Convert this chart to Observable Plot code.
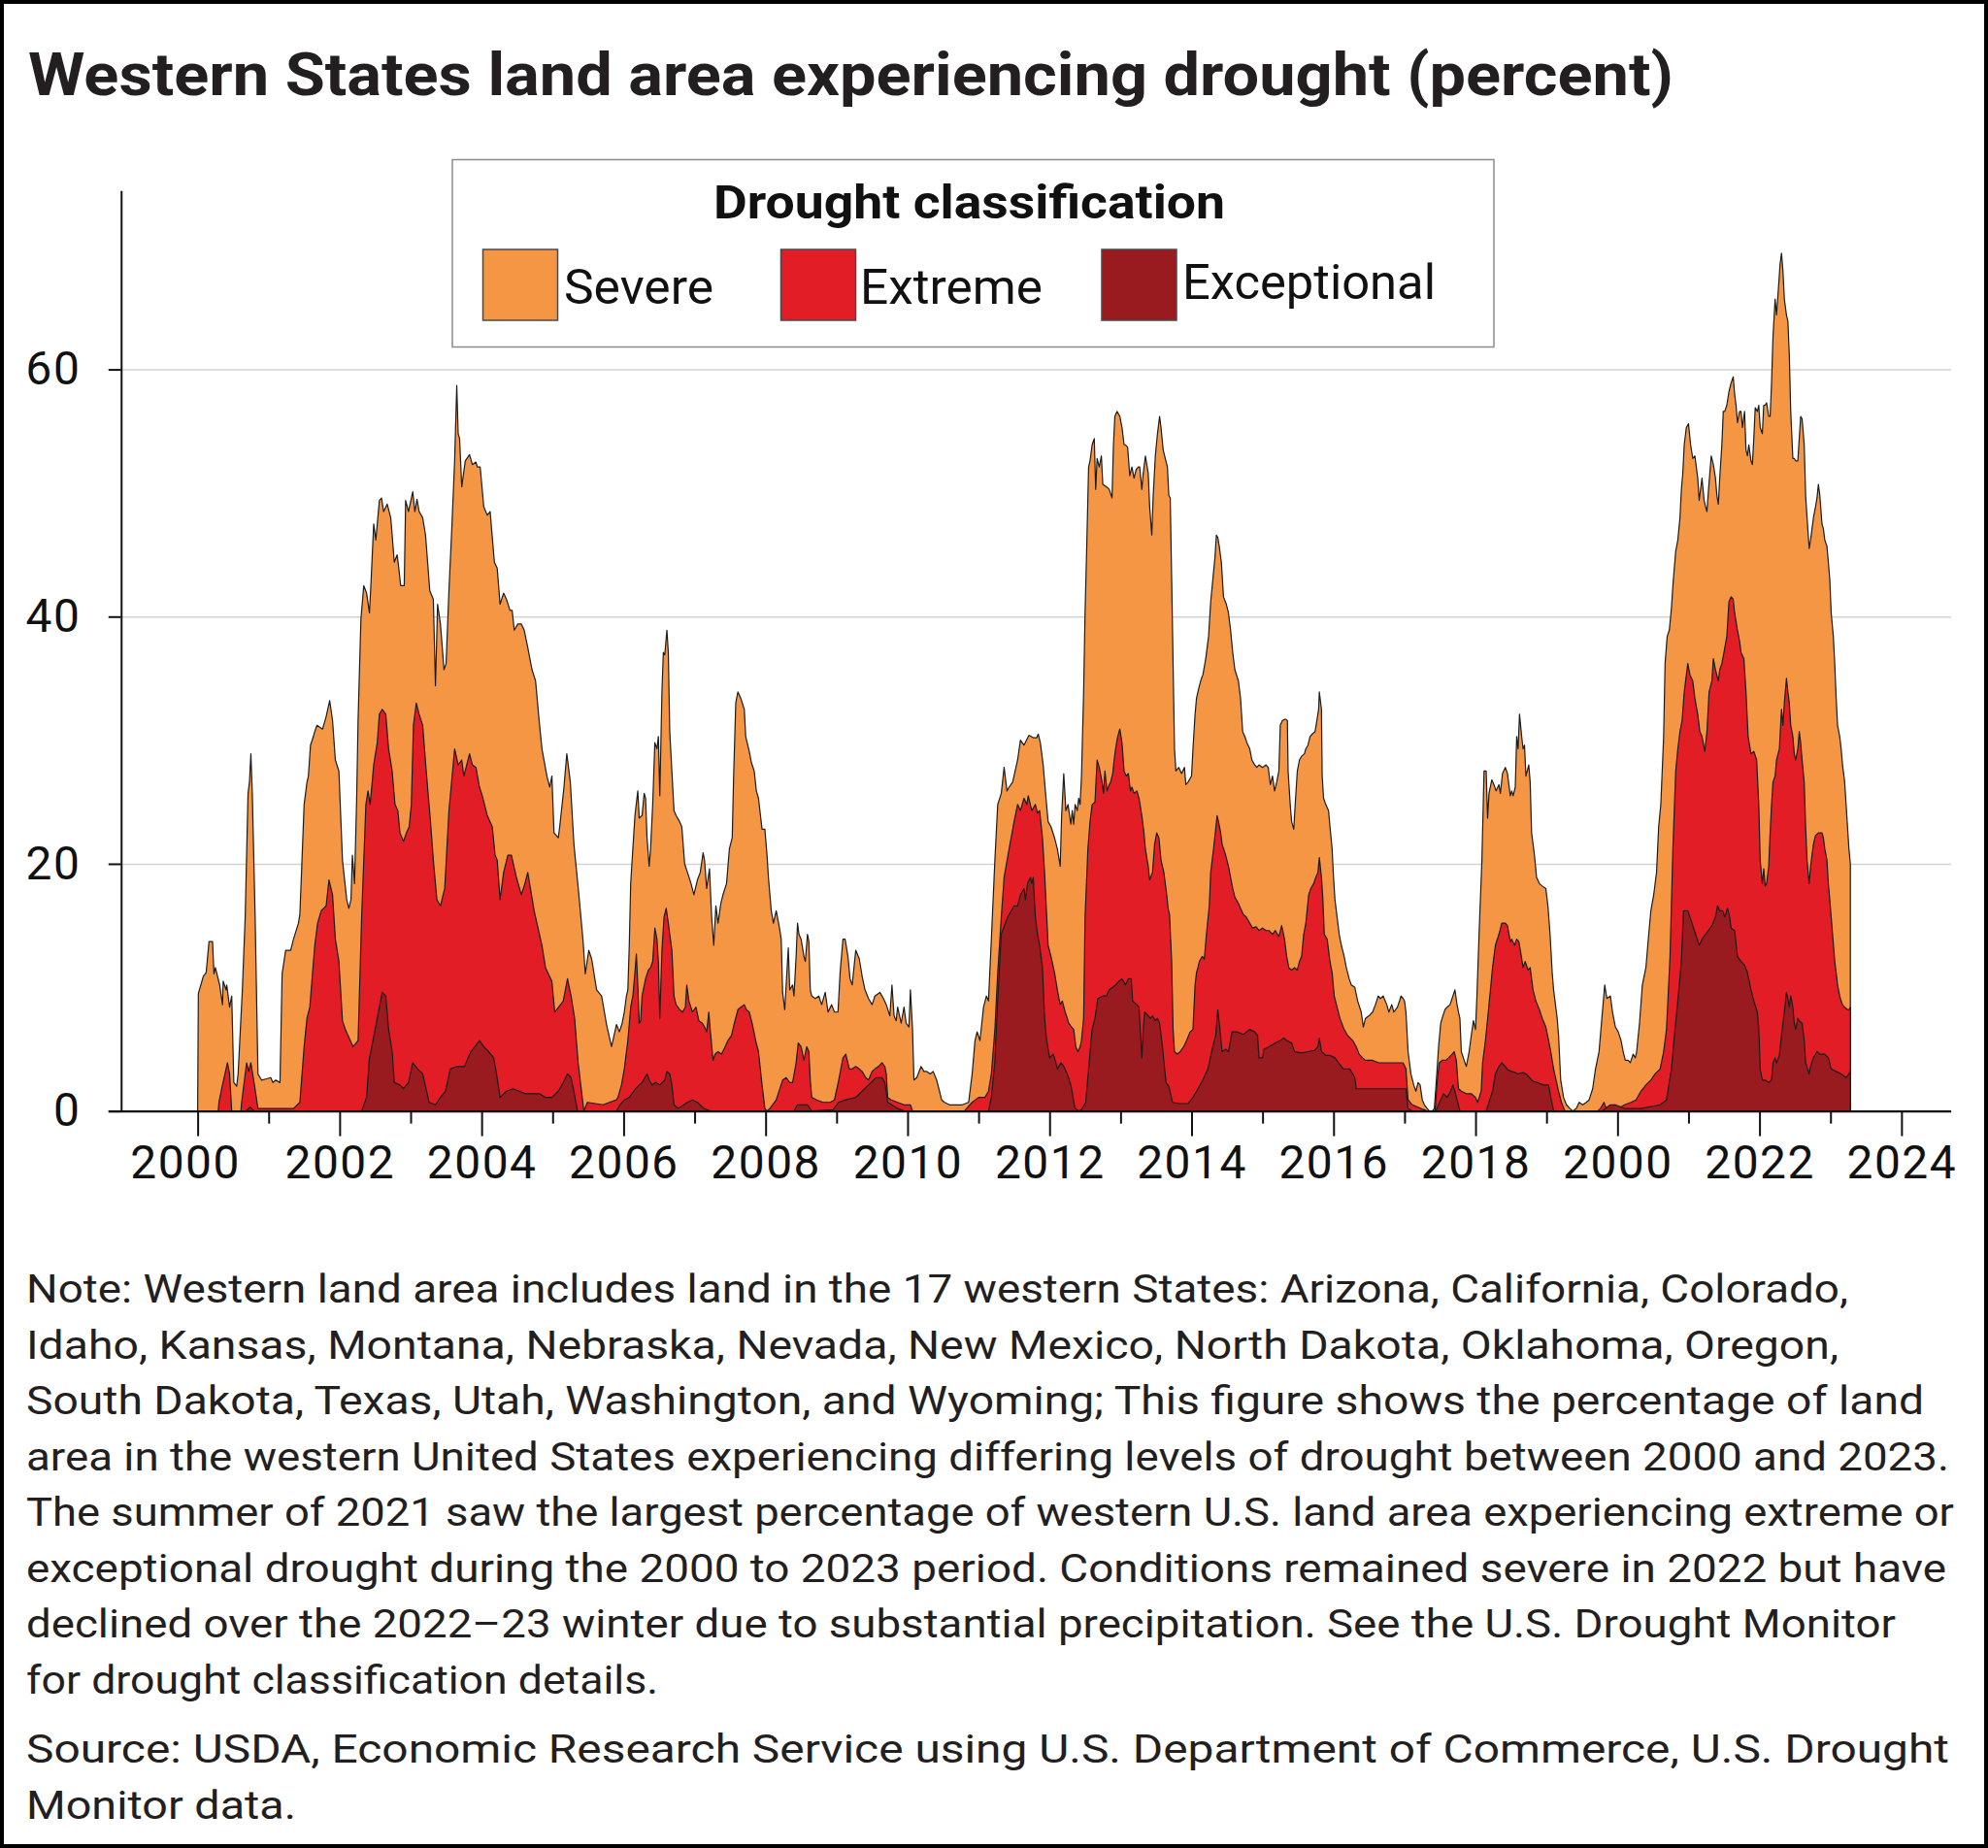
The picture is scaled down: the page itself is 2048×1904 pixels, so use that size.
<!DOCTYPE html>
<html>
<head>
<meta charset="utf-8">
<script src="https://cdn.jsdelivr.net/npm/d3@7"></script>
<script src="https://cdn.jsdelivr.net/npm/@observablehq/plot@0.6"></script>
<style>
html, body { margin: 0; padding: 0; background: #fff; }
#page { position: relative; width: 2048px; height: 1904px; box-sizing: border-box; border: 4px solid #000; overflow: hidden; background: #fff; font-family: Roboto, sans-serif; }
#chart { position: absolute; left: -4px; top: 146px; }
#overlay { position: absolute; left: -4px; top: -4px; pointer-events: none; }
</style>
</head>
<body>
<div id="page">
  <div id="chart"></div>
  <svg id="overlay" width="2048" height="1904"></svg>
</div>
<script>
// ---------------- DATA ----------------
const titleText = "Western States land area experiencing drought (percent)";
const legendTitle = "Drought classification";
const categories = ["Severe", "Extreme", "Exceptional"];
const colors = ["#F59645", "#E31D25", "#9A1B1F"];

// Share of western land area in each class or worse, [year, percent]
const severeOrWorse = [
[2000.00,0],[2000.01,9.5],[2000.08,10.9],[2000.12,11.2],[2000.16,13.7],[2000.21,13.7],[2000.23,11.1],[2000.25,11.6],[2000.31,10.2],[2000.35,8.6],[2000.36,10.5],[2000.40,9.8],[2000.41,10.2],[2000.45,8.4],[2000.48,9.3],[2000.51,2.3],[2000.55,2.0],[2000.57,3.0],[2000.63,9.8],[2000.67,15.7],[2000.71,25.7],[2000.73,26.6],[2000.75,28.9],[2000.77,25.7],[2000.81,15.7],[2000.85,3.0],[2000.90,2.5],[2000.97,2.6],[2001.03,2.7],[2001.06,2.3],[2001.10,2.5],[2001.16,2.3],[2001.19,11.1],[2001.24,13.0],[2001.31,13.0],[2001.35,13.9],[2001.42,15.2],[2001.44,15.9],[2001.47,20.3],[2001.50,24.8],[2001.54,26.6],[2001.56,27.1],[2001.59,29.6],[2001.63,30.3],[2001.65,30.7],[2001.68,31.2],[2001.76,30.9],[2001.81,31.9],[2001.86,33.2],[2001.90,31.6],[2001.94,28.4],[2001.99,27.5],[2002.04,20.3],[2002.10,17.1],[2002.13,16.4],[2002.16,17.1],[2002.18,20.7],[2002.21,18.4],[2002.24,25.3],[2002.26,31.6],[2002.30,39.8],[2002.34,42.5],[2002.38,41.9],[2002.42,40.3],[2002.44,42.5],[2002.48,47.5],[2002.51,46.2],[2002.56,49.4],[2002.59,49.6],[2002.62,48.5],[2002.67,49.1],[2002.72,48.0],[2002.74,46.6],[2002.77,44.4],[2002.81,45.0],[2002.83,44.1],[2002.86,42.5],[2002.91,42.5],[2002.93,49.4],[2002.97,48.5],[2003.03,50.1],[2003.06,48.5],[2003.09,49.5],[2003.12,48.5],[2003.17,48.0],[2003.21,46.6],[2003.27,42.1],[2003.32,41.4],[2003.35,34.4],[2003.38,41.0],[2003.42,39.4],[2003.47,35.7],[2003.50,36.2],[2003.54,42.1],[2003.58,47.1],[2003.62,52.6],[2003.65,58.7],[2003.67,54.8],[2003.69,54.4],[2003.72,50.5],[2003.77,52.6],[2003.83,53.1],[2003.87,52.3],[2003.92,52.5],[2003.94,52.1],[2003.98,52.1],[2004.03,48.9],[2004.08,48.2],[2004.12,48.5],[2004.18,44.4],[2004.22,43.9],[2004.26,41.0],[2004.31,41.9],[2004.35,41.4],[2004.40,40.5],[2004.43,40.5],[2004.46,38.9],[2004.51,39.4],[2004.56,39.4],[2004.60,38.9],[2004.65,37.5],[2004.71,35.7],[2004.76,34.8],[2004.81,31.6],[2004.85,29.3],[2004.92,27.1],[2004.96,26.2],[2004.99,27.1],[2005.02,22.5],[2005.08,22.1],[2005.10,23.0],[2005.16,26.2],[2005.20,28.9],[2005.25,26.6],[2005.30,21.6],[2005.37,17.5],[2005.43,13.7],[2005.46,11.1],[2005.51,13.0],[2005.55,12.3],[2005.62,9.8],[2005.69,9.3],[2005.76,7.0],[2005.83,5.2],[2005.90,7.0],[2005.94,6.4],
[2005.98,7.1],[2006.01,8.0],[2006.04,9.3],[2006.06,9.8],[2006.08,13.4],[2006.10,18.4],[2006.13,21.2],[2006.16,23.9],[2006.20,25.9],[2006.22,23.7],[2006.26,23.9],[2006.29,25.7],[2006.31,25.3],[2006.33,22.1],[2006.36,19.8],[2006.38,21.2],[2006.41,24.8],[2006.44,29.8],[2006.47,29.3],[2006.49,30.3],[2006.51,25.5],[2006.54,33.9],[2006.56,37.1],[2006.58,36.9],[2006.61,38.9],[2006.63,37.1],[2006.65,30.7],[2006.68,27.5],[2006.71,24.3],[2006.74,23.9],[2006.79,23.4],[2006.82,23.0],[2006.86,20.0],[2006.90,19.3],[2006.95,18.4],[2006.99,17.5],[2007.04,18.7],[2007.08,19.3],[2007.12,20.9],[2007.14,20.3],[2007.17,18.0],[2007.21,19.6],[2007.24,15.7],[2007.27,13.4],[2007.30,16.6],[2007.33,15.2],[2007.37,16.8],[2007.40,17.5],[2007.45,18.4],[2007.49,21.2],[2007.53,22.1],[2007.55,27.1],[2007.58,33.0],[2007.61,33.9],[2007.65,33.4],[2007.70,32.5],[2007.72,30.3],[2007.77,29.1],[2007.80,28.2],[2007.84,27.5],[2007.87,25.9],[2007.90,25.3],[2007.95,22.8],[2007.99,22.8],[2008.02,20.7],[2008.04,18.9],[2008.08,16.2],[2008.11,15.2],[2008.15,16.2],[2008.19,15.0],[2008.22,13.9],[2008.24,9.6],[2008.27,8.2],[2008.29,10.2],[2008.32,13.2],[2008.34,9.8],[2008.38,10.2],[2008.40,9.3],[2008.43,12.5],[2008.45,15.2],[2008.47,14.3],[2008.50,13.9],[2008.54,12.5],[2008.56,12.1],[2008.59,14.3],[2008.61,13.7],[2008.63,9.8],[2008.65,9.3],[2008.70,9.1],[2008.75,9.3],[2008.79,8.6],[2008.84,9.6],[2008.88,8.0],[2008.93,8.6],[2008.97,8.0],[2009.02,8.0],[2009.05,11.2],[2009.09,13.9],[2009.12,13.9],[2009.16,12.5],[2009.19,10.7],[2009.22,10.2],[2009.27,13.0],[2009.32,12.3],[2009.36,10.9],[2009.40,9.8],[2009.45,9.1],[2009.50,8.6],[2009.54,9.3],[2009.61,9.6],[2009.66,9.1],[2009.70,8.6],[2009.75,7.7],[2009.78,10.2],[2009.81,7.7],[2009.84,7.3],[2009.86,8.4],[2009.91,7.1],[2009.95,8.4],[2009.98,7.1],[2010.02,6.8],[2010.04,9.8],[2010.07,6.6],[2010.09,2.5],[2010.13,2.7],[2010.19,3.6],[2010.23,3.2],[2010.27,3.2],[2010.32,3.0],[2010.36,3.2],[2010.41,2.5],[2010.45,1.6],[2010.48,0.9],[2010.52,0.7],[2010.59,0.5],[2010.68,0.5],[2010.77,0.5],[2010.86,0.7],[2010.91,3.0],[2010.95,5.7],[2010.98,6.4],[2011.02,5.7],[2011.07,8.4],[2011.11,9.3],[2011.14,8.9],[2011.18,13.9],[2011.23,20.3],[2011.27,24.8],[2011.32,25.7],[2011.36,27.8],[2011.40,25.9],[2011.43,26.2],[2011.48,26.6],[2011.55,28.4],[2011.59,30.0],[2011.64,29.6],[2011.71,30.4],[2011.77,30.2],[2011.82,30.2],
[2011.84,30.5],[2011.87,29.8],[2011.91,28.0],[2011.95,25.3],[2011.98,23.4],[2012.02,23.0],[2012.07,22.1],[2012.11,21.2],[2012.15,19.8],[2012.17,23.9],[2012.20,27.3],[2012.23,24.3],[2012.26,24.8],[2012.30,23.2],[2012.32,24.3],[2012.34,23.2],[2012.36,24.8],[2012.39,24.3],[2012.41,25.3],[2012.43,24.8],[2012.45,27.1],[2012.48,33.9],[2012.50,40.3],[2012.52,44.8],[2012.55,52.1],[2012.57,52.6],[2012.60,53.9],[2012.63,54.4],[2012.65,50.3],[2012.67,52.8],[2012.70,52.1],[2012.73,53.0],[2012.75,50.7],[2012.80,50.5],[2012.84,50.3],[2012.88,49.6],[2012.90,53.9],[2012.92,56.2],[2012.95,56.6],[2012.99,56.2],[2013.02,55.3],[2013.05,53.9],[2013.07,53.9],[2013.10,53.7],[2013.13,51.4],[2013.16,52.1],[2013.19,51.2],[2013.22,51.9],[2013.25,52.1],[2013.27,52.1],[2013.30,50.3],[2013.32,51.6],[2013.35,53.0],[2013.39,51.6],[2013.41,48.9],[2013.44,46.6],[2013.46,49.8],[2013.49,53.0],[2013.52,54.8],[2013.55,56.2],[2013.57,55.3],[2013.60,53.5],[2013.63,52.8],[2013.66,52.1],[2013.68,49.8],[2013.70,49.6],[2013.72,43.0],[2013.74,36.2],[2013.76,29.3],[2013.78,27.5],[2013.82,27.8],[2013.86,27.3],[2013.90,27.8],[2013.92,26.4],[2013.95,26.6],[2014.00,27.1],[2014.02,29.3],[2014.05,32.1],[2014.07,33.4],[2014.09,33.9],[2014.11,34.4],[2014.14,35.0],[2014.16,35.3],[2014.20,36.6],[2014.24,38.4],[2014.27,41.2],[2014.30,43.0],[2014.33,44.8],[2014.35,46.6],[2014.37,46.4],[2014.39,45.7],[2014.42,44.4],[2014.45,41.6],[2014.49,41.0],[2014.52,40.3],[2014.55,38.9],[2014.58,37.1],[2014.61,35.7],[2014.66,34.8],[2014.69,33.4],[2014.72,30.7],[2014.75,30.3],[2014.78,29.8],[2014.82,29.3],[2014.85,28.4],[2014.89,28.0],[2014.92,27.8],[2014.95,28.0],[2015.00,27.8],[2015.05,28.0],[2015.08,27.8],[2015.11,26.4],[2015.14,27.1],[2015.17,25.9],[2015.20,26.6],[2015.23,27.5],[2015.25,31.2],[2015.28,31.6],[2015.32,31.7],[2015.35,31.6],[2015.36,27.5],[2015.39,24.8],[2015.41,23.4],[2015.44,22.8],[2015.46,24.8],[2015.49,27.5],[2015.52,28.4],[2015.55,28.7],[2015.59,28.9],[2015.61,29.3],[2015.64,29.6],[2015.67,30.3],[2015.70,30.5],[2015.74,30.7],[2015.76,31.4],[2015.79,32.5],[2015.80,33.9],[2015.83,32.5],[2015.84,27.1],[2015.86,25.3],[2015.89,24.8],[2015.93,24.3],[2015.95,23.0],[2015.98,21.2],[2016.00,18.9],[2016.02,17.1],[2016.05,15.7],[2016.08,14.3],[2016.11,13.4],[2016.15,12.5],[2016.18,11.6],[2016.22,10.7],[2016.25,10.2],[2016.30,10.0],[2016.34,8.9],[2016.39,8.0],[2016.42,6.8],[2016.45,7.5],[2016.50,7.7],[2016.55,8.0],[2016.59,8.6],[2016.63,9.3],[2016.66,9.1],[2016.70,9.3],[2016.75,8.6],[2016.78,8.0],[2016.82,8.6],[2016.85,8.0],[2016.90,8.4],[2016.93,8.9],[2016.95,9.3],[2016.98,9.1],[2017.00,8.9],[2017.02,8.0],[2017.05,4.8],[2017.09,3.0],[2017.13,2.1],[2017.16,1.6],[2017.19,2.3],[2017.22,2.1],[2017.25,0.9],[2017.28,0.5],[2017.32,0.2],[2017.35,0],[2017.39,0],[2017.42,0.2],[2017.45,2.6],[2017.48,5.2],[2017.51,7.1],[2017.54,7.7],[2017.57,8.2],[2017.60,8.4],[2017.64,8.6],[2017.67,9.1],
[2017.71,9.8],[2017.74,8.6],[2017.76,8.0],[2017.78,7.5],[2017.80,4.8],[2017.84,4.1],[2017.87,3.6],[2017.91,4.8],[2017.94,6.1],[2017.97,7.3],[2018.00,6.6],[2018.02,9.3],[2018.05,14.3],[2018.09,20.3],[2018.12,27.5],[2018.15,27.5],[2018.17,23.7],[2018.19,25.7],[2018.23,26.8],[2018.26,26.4],[2018.29,25.9],[2018.33,26.4],[2018.35,25.7],[2018.38,27.3],[2018.42,27.8],[2018.45,27.3],[2018.49,25.5],[2018.51,25.9],[2018.53,25.5],[2018.56,26.2],[2018.58,30.3],[2018.60,29.3],[2018.62,32.1],[2018.65,30.3],[2018.67,29.3],[2018.69,29.6],[2018.71,27.1],[2018.75,28.0],[2018.77,26.6],[2018.79,22.5],[2018.83,20.7],[2018.86,18.9],[2018.90,18.4],[2018.94,18.2],[2018.99,18.0],[2019.02,16.6],[2019.05,14.3],[2019.08,11.2],[2019.10,9.8],[2019.12,8.9],[2019.15,7.5],[2019.17,6.1],[2019.20,2.5],[2019.24,1.1],[2019.28,0.5],[2019.33,0.2],[2019.37,0],[2019.42,0.2],[2019.46,0.7],[2019.51,0.5],[2019.56,0.7],[2019.60,0.9],[2019.65,1.8],[2019.69,3.4],[2019.74,4.8],[2019.78,7.5],[2019.82,10.2],[2019.85,9.1],[2019.90,9.3],[2019.93,8.0],[2019.97,6.8],[2020.01,6.4],[2020.05,5.7],[2020.08,4.8],[2020.11,4.1],[2020.15,4.1],[2020.18,3.9],[2020.22,4.6],[2020.25,4.3],[2020.27,4.8],[2020.31,7.1],[2020.35,10.2],[2020.40,11.6],[2020.44,14.3],[2020.47,16.2],[2020.51,17.5],[2020.55,19.3],[2020.58,23.0],[2020.61,24.8],[2020.65,30.3],[2020.67,36.2],[2020.70,38.4],[2020.73,38.9],[2020.76,40.7],[2020.78,42.5],[2020.82,45.3],[2020.85,46.2],[2020.88,48.0],[2020.90,50.3],[2020.92,51.6],[2020.94,53.9],[2020.97,55.3],[2021.00,55.6],[2021.03,53.9],[2021.06,52.8],[2021.09,53.0],[2021.13,51.2],[2021.15,49.4],[2021.17,50.3],[2021.19,51.2],[2021.22,49.4],[2021.24,48.9],[2021.26,48.5],[2021.28,50.1],[2021.32,53.0],[2021.35,52.3],[2021.38,51.2],[2021.40,49.8],[2021.42,49.1],[2021.44,51.2],[2021.47,53.9],[2021.49,56.6],[2021.51,56.6],[2021.54,57.1],[2021.57,58.2],[2021.60,58.9],[2021.63,59.4],[2021.65,58.0],[2021.67,57.1],[2021.69,55.7],[2021.72,56.6],[2021.74,56.6],[2021.76,55.3],[2021.79,56.6],[2021.81,53.5],[2021.83,53.0],[2021.85,53.9],[2021.88,52.6],[2021.90,52.3],[2021.92,54.4],[2021.94,56.9],[2021.97,56.6],[2021.99,57.1],[2022.01,55.3],[2022.04,54.8],[2022.06,57.1],[2022.08,57.1],[2022.10,57.3],[2022.13,56.2],[2022.15,56.2],[2022.17,58.9],[2022.19,62.6],[2022.22,65.7],[2022.24,64.4],[2022.26,66.0],[2022.29,68.5],[2022.31,69.4],[2022.33,68.0],[2022.35,65.7],[2022.38,64.4],[2022.40,63.9],[2022.42,61.2],[2022.44,56.6],[2022.47,52.8],[2022.49,52.8],[2022.51,52.6],[2022.54,52.6],[2022.56,54.4],[2022.58,56.2],[2022.60,56.0],[2022.63,53.9],[2022.65,49.8],[2022.67,48.0],[2022.70,45.5],[2022.72,46.2],[2022.74,47.1],[2022.76,48.0],[2022.79,48.9],[2022.81,49.6],[2022.83,50.7],[2022.85,49.8],[2022.88,47.5],[2022.90,47.1],[2022.92,46.2],[2022.95,45.7],[2022.97,44.4],[2022.99,43.0],[2023.01,40.3],[2023.04,38.4],[2023.06,36.2],[2023.08,33.4],[2023.10,31.2],[2023.13,30.3],[2023.15,29.3],[2023.17,28.0],[2023.20,26.6],[2023.22,24.8],[2023.24,23.0],[2023.26,21.2],[2023.28,20.0]
];

const extremeOrWorse = [
[2000.29,0],[2000.30,0.7],[2000.35,2.1],[2000.42,3.9],[2000.45,3.0],[2000.48,0],[2000.61,0],[2000.62,0.7],[2000.69,3.9],[2000.72,3.2],[2000.75,3.9],[2000.80,2.1],[2000.85,0.2],[2001.35,0.2],[2001.44,0.7],[2001.50,5.2],[2001.54,7.5],[2001.58,8.4],[2001.65,13.4],[2001.69,15.2],[2001.74,16.2],[2001.81,16.6],[2001.85,18.7],[2001.90,17.5],[2001.94,13.9],[2001.99,12.1],[2002.04,7.3],[2002.08,6.6],[2002.15,5.7],[2002.19,5.2],[2002.26,5.7],[2002.31,15.7],[2002.37,24.8],[2002.40,25.9],[2002.43,24.8],[2002.48,28.0],[2002.53,29.8],[2002.56,32.1],[2002.60,32.5],[2002.65,32.1],[2002.69,29.3],[2002.74,27.5],[2002.78,24.8],[2002.82,24.3],[2002.85,22.5],[2002.90,21.8],[2002.94,22.5],[2002.98,23.0],[2003.01,24.8],[2003.04,31.2],[2003.08,33.0],[2003.12,32.1],[2003.17,31.2],[2003.22,27.5],[2003.28,23.4],[2003.32,20.3],[2003.37,17.1],[2003.42,16.6],[2003.48,18.0],[2003.54,24.3],[2003.62,29.3],[2003.67,28.0],[2003.72,28.4],[2003.75,27.1],[2003.83,28.9],[2003.87,28.0],[2003.92,27.8],[2003.97,26.2],[2004.01,25.5],[2004.08,23.9],[2004.15,23.0],[2004.19,20.7],[2004.22,20.3],[2004.26,17.1],[2004.31,19.3],[2004.37,20.7],[2004.42,20.7],[2004.49,18.9],[2004.56,17.5],[2004.61,18.4],[2004.65,19.3],[2004.74,16.2],[2004.85,13.4],[2004.90,11.6],[2004.99,10.5],[2005.03,8.0],[2005.15,8.9],[2005.21,10.7],[2005.26,9.3],[2005.31,7.5],[2005.36,3.9],[2005.44,0],[2005.49,0.7],[2005.71,0.5],[2005.90,0.9],
[2005.92,1.1],[2005.97,2.1],[2006.01,3.4],[2006.06,5.7],[2006.10,8.4],[2006.13,9.3],[2006.16,11.2],[2006.18,12.7],[2006.20,10.2],[2006.22,7.1],[2006.24,7.3],[2006.26,9.3],[2006.31,10.7],[2006.35,11.4],[2006.38,11.6],[2006.41,12.1],[2006.44,14.8],[2006.47,13.9],[2006.49,12.1],[2006.51,7.5],[2006.54,13.0],[2006.57,15.7],[2006.60,16.4],[2006.63,15.2],[2006.65,14.3],[2006.68,13.0],[2006.71,9.3],[2006.74,8.6],[2006.79,8.2],[2006.83,8.0],[2006.87,8.4],[2006.89,10.2],[2006.92,8.9],[2006.97,8.0],[2007.02,8.4],[2007.06,7.3],[2007.11,7.1],[2007.14,6.8],[2007.17,6.4],[2007.20,8.0],[2007.22,6.6],[2007.26,4.1],[2007.29,4.6],[2007.33,4.8],[2007.38,4.6],[2007.43,5.2],[2007.47,5.7],[2007.52,6.1],[2007.56,7.1],[2007.61,8.2],[2007.65,8.4],[2007.70,8.6],[2007.73,8.2],[2007.77,8.0],[2007.81,7.1],[2007.86,5.7],[2007.90,4.8],[2007.95,2.1],[2007.99,0.2],[2008.02,0],
[2008.06,0.2],[2008.15,0.9],[2008.24,2.5],[2008.29,2.7],[2008.34,2.3],[2008.38,2.3],[2008.43,3.9],[2008.46,5.5],[2008.50,5.2],[2008.54,4.1],[2008.58,5.2],[2008.61,4.8],[2008.63,2.5],[2008.65,1.1],[2008.72,0.9],[2008.81,0.7],[2008.91,0.7],[2008.97,0.9],[2009.03,2.5],[2009.09,4.3],[2009.13,4.6],[2009.18,3.4],[2009.22,3.4],[2009.27,3.6],[2009.32,3.4],[2009.36,3.2],[2009.41,2.7],[2009.45,2.5],[2009.50,3.2],[2009.54,3.4],[2009.59,3.6],[2009.64,3.9],[2009.68,3.6],[2009.70,3.0],[2009.72,1.1],[2009.77,0.9],[2009.86,0.7],[2009.95,0.5],[2010.04,0.5],[2010.07,0],[2010.80,0],
[2010.91,0.7],[2011.00,1.1],[2011.09,1.1],[2011.14,1.6],[2011.18,3.0],[2011.23,6.6],[2011.27,11.2],[2011.32,15.7],[2011.36,18.9],[2011.43,21.2],[2011.50,23.4],
[2011.55,24.8],[2011.59,24.3],[2011.64,25.3],[2011.68,24.8],[2011.70,25.5],[2011.75,24.3],[2011.80,24.8],[2011.83,24.1],[2011.86,24.3],[2011.90,22.1],[2011.93,19.3],[2011.98,13.4],[2012.02,12.5],[2012.07,11.2],[2012.11,9.8],[2012.15,8.6],[2012.18,8.9],[2012.22,8.0],[2012.25,7.5],[2012.27,7.1],[2012.31,6.8],[2012.34,6.6],[2012.37,5.2],[2012.40,4.8],[2012.43,5.2],[2012.45,5.7],[2012.48,7.5],[2012.50,15.7],[2012.54,21.2],[2012.57,23.4],[2012.60,24.8],[2012.64,25.0],[2012.67,28.4],[2012.70,27.8],[2012.74,26.6],[2012.76,25.7],[2012.78,27.5],[2012.81,25.9],[2012.84,26.4],[2012.86,26.6],[2012.89,27.3],[2012.91,28.4],[2012.93,29.3],[2012.96,30.3],[2012.99,30.9],[2013.02,29.8],[2013.05,27.5],[2013.08,27.1],[2013.11,27.3],[2013.14,25.9],[2013.16,26.2],[2013.19,25.7],[2013.23,25.9],[2013.26,25.3],[2013.30,23.9],[2013.33,22.5],[2013.35,21.2],[2013.39,19.8],[2013.41,18.7],[2013.45,19.3],[2013.48,21.6],[2013.51,22.5],[2013.54,22.1],[2013.57,20.3],[2013.61,19.3],[2013.65,17.5],[2013.67,16.4],[2013.69,15.9],[2013.72,12.1],[2013.74,6.6],[2013.76,4.8],[2013.80,4.6],[2013.84,4.8],[2013.89,5.2],[2013.93,5.7],[2013.98,6.4],[2014.02,6.6],[2014.05,10.2],[2014.07,11.2],[2014.09,11.6],[2014.11,12.1],[2014.15,12.5],[2014.18,12.3],[2014.21,14.3],[2014.25,16.6],[2014.27,19.3],[2014.31,21.2],[2014.34,22.8],[2014.36,23.9],[2014.38,23.4],[2014.41,22.5],[2014.43,21.6],[2014.48,20.7],[2014.52,19.8],[2014.55,18.9],[2014.58,18.0],[2014.61,17.3],[2014.66,16.8],[2014.69,16.4],[2014.73,15.9],[2014.77,15.7],[2014.82,15.2],[2014.86,14.8],[2014.91,14.9],[2014.95,14.6],[2015.00,14.8],[2015.05,14.6],[2015.09,14.6],[2015.14,14.3],[2015.18,14.6],[2015.23,14.1],[2015.27,15.0],[2015.31,13.9],[2015.34,12.5],[2015.37,11.6],[2015.41,11.4],[2015.45,11.6],[2015.49,11.4],[2015.52,12.1],[2015.55,12.5],[2015.58,14.3],[2015.61,15.2],[2015.65,17.5],[2015.68,18.0],[2015.72,18.4],[2015.75,18.9],[2015.78,19.3],[2015.80,20.5],[2015.83,18.9],[2015.85,17.1],[2015.87,14.3],[2015.91,13.9],[2015.95,12.1],[2015.98,11.2],[2016.01,9.3],[2016.05,8.4],[2016.09,7.5],[2016.15,6.6],[2016.20,6.1],[2016.27,5.7],[2016.32,5.2],[2016.36,4.6],[2016.41,4.3],[2016.45,4.1],[2016.55,4.1],[2016.64,3.9],[2016.98,3.9],[2017.02,3.4],[2017.05,0.9],[2017.11,0.5],[2017.23,0.2],[2017.32,0],[2017.43,0],[2017.46,2.4],[2017.49,3.9],[2017.53,4.1],[2017.58,4.1],[2017.62,4.3],[2017.67,4.6],
[2017.70,4.8],[2017.73,4.1],[2017.76,1.8],[2017.80,1.6],[2017.87,1.4],[2017.94,1.4],[2018.00,1.1],[2018.03,0.7],[2018.08,1.6],[2018.10,3.9],[2018.14,5.7],[2018.18,8.0],[2018.24,11.6],[2018.28,13.4],[2018.33,14.3],[2018.37,15.2],[2018.42,15.2],[2018.45,15.0],[2018.49,13.7],[2018.51,13.9],[2018.55,13.4],[2018.58,13.9],[2018.61,13.7],[2018.64,12.7],[2018.67,11.6],[2018.70,12.1],[2018.74,11.4],[2018.77,11.6],[2018.81,9.8],[2018.85,8.9],[2018.90,8.2],[2018.94,7.5],[2018.99,6.8],[2019.03,5.7],[2019.06,4.8],[2019.10,3.4],[2019.15,2.1],[2019.17,1.6],[2019.21,0.7],[2019.26,0],[2019.72,0],[2019.76,0.2],[2019.81,0.7],[2019.84,0.2],[2019.90,0.1],[2020.01,0.2],[2020.10,0.5],[2020.19,0.7],[2020.26,0.9],[2020.33,1.6],[2020.40,2.1],[2020.47,2.5],[2020.53,3.0],[2020.60,3.4],[2020.65,4.8],[2020.69,6.6],[2020.74,12.5],[2020.78,21.2],[2020.82,27.5],[2020.85,29.3],[2020.88,30.7],[2020.91,31.6],[2020.94,33.9],[2020.99,36.2],[2021.02,35.3],[2021.06,34.8],[2021.09,33.4],[2021.13,32.1],[2021.16,30.7],[2021.19,30.3],[2021.23,29.1],[2021.26,30.7],[2021.29,33.9],[2021.33,34.8],[2021.35,36.6],[2021.38,35.7],[2021.42,34.8],[2021.44,35.7],[2021.47,36.2],[2021.50,37.1],[2021.54,38.4],[2021.57,41.2],[2021.60,41.6],[2021.63,41.4],[2021.65,40.3],[2021.69,38.9],[2021.72,38.0],[2021.74,37.1],[2021.78,36.6],[2021.81,33.9],[2021.84,30.3],[2021.88,28.9],[2021.92,29.1],[2021.96,28.4],[2021.99,24.8],[2022.01,20.3],[2022.04,18.4],[2022.06,19.6],[2022.08,18.2],[2022.10,18.4],[2022.13,19.8],[2022.15,22.5],[2022.17,24.8],[2022.19,26.6],[2022.22,27.1],[2022.24,28.4],[2022.28,29.3],[2022.31,32.5],[2022.33,31.2],[2022.35,33.0],[2022.38,35.0],[2022.40,33.9],[2022.42,33.0],[2022.44,31.2],[2022.47,30.3],[2022.49,28.9],[2022.51,28.4],[2022.54,29.3],[2022.56,30.7],[2022.58,29.8],[2022.60,28.4],[2022.63,26.6],[2022.65,23.0],[2022.67,20.3],[2022.70,18.4],[2022.72,19.8],[2022.74,20.7],[2022.76,21.6],[2022.79,22.3],[2022.83,22.5],[2022.88,22.5],[2022.90,22.1],[2022.92,21.2],[2022.95,20.3],[2022.97,18.4],[2022.99,17.1],[2023.01,15.7],[2023.06,12.1],[2023.08,11.2],[2023.10,10.2],[2023.13,9.3],[2023.15,8.9],[2023.17,8.6],[2023.20,8.4],[2023.24,8.2],[2023.26,8.2],[2023.28,8.4]
];

const exceptionalOnly = [
[2000.68,0],[2000.74,0.3],[2000.80,0],
[2002.31,0],[2002.38,1.1],[2002.42,4.3],[2002.44,4.8],[2002.50,6.6],[2002.56,8.4],[2002.60,9.6],[2002.65,9.3],[2002.69,6.6],[2002.74,4.8],[2002.77,2.3],[2002.85,2.1],[2002.90,1.8],[2002.97,2.3],[2003.03,3.9],[2003.10,3.4],[2003.17,3.0],[2003.26,0.7],[2003.35,0.5],[2003.42,1.1],[2003.49,1.6],[2003.56,3.4],[2003.65,3.6],[2003.76,3.6],[2003.81,4.3],[2003.85,4.8],[2003.97,5.7],[2004.03,5.2],[2004.10,4.8],[2004.17,4.3],[2004.21,3.0],[2004.26,1.1],[2004.35,1.6],[2004.44,1.8],[2004.53,1.6],[2004.62,1.4],[2004.71,1.4],[2004.81,1.4],[2004.90,1.1],[2004.99,1.1],[2005.08,1.6],[2005.15,2.3],[2005.21,3.0],[2005.26,2.7],[2005.30,1.6],[2005.35,0],
[2005.90,0],[2005.95,0.5],[2006.01,0.9],[2006.08,1.1],[2006.17,1.8],[2006.22,2.1],[2006.26,2.3],[2006.33,3.0],[2006.36,2.5],[2006.40,2.1],[2006.45,2.3],[2006.51,2.1],[2006.58,2.5],[2006.61,3.2],[2006.65,3.0],[2006.68,2.1],[2006.71,0.5],[2006.77,0.2],[2006.90,0.7],[2006.97,0.9],[2007.04,0.7],[2007.13,0.2],[2007.22,0],
[2008.40,0],[2008.45,0.5],[2008.59,0.5],[2008.65,0],[2008.95,0.1],[2009.03,0.7],[2009.13,0.9],[2009.27,1.1],[2009.36,1.6],[2009.45,2.1],[2009.52,2.5],[2009.56,2.7],[2009.64,2.7],[2009.68,2.3],[2009.72,0.7],[2009.86,0.2],[2009.95,0],
[2011.10,0],[2011.14,0],[2011.18,1.1],[2011.23,4.0],[2011.27,9.0],[2011.32,14.3],[2011.41,15.7],[2011.50,16.6],[2011.55,16.6],[2011.59,17.5],[2011.64,18.0],[2011.66,17.1],[2011.69,18.4],[2011.73,18.9],[2011.75,18.4],[2011.77,18.9],[2011.80,15.7],[2011.83,14.3],[2011.86,13.4],[2011.90,11.6],[2011.93,7.5],[2011.96,5.7],[2012.00,4.3],[2012.05,4.6],[2012.08,4.1],[2012.11,3.4],[2012.16,3.9],[2012.20,3.6],[2012.25,3.0],[2012.30,2.1],[2012.33,1.1],[2012.36,0.2],[2012.41,0],[2012.45,0.1],[2012.51,0.7],[2012.55,3.4],[2012.60,6.6],[2012.64,7.5],[2012.68,9.1],[2012.75,9.3],[2012.80,9.3],[2012.84,9.8],[2012.89,10.0],[2012.93,10.2],[2012.98,10.5],[2013.02,10.7],[2013.07,10.2],[2013.11,10.7],[2013.15,10.7],[2013.17,8.9],[2013.23,8.6],[2013.26,8.4],[2013.30,4.3],[2013.32,6.6],[2013.34,8.0],[2013.39,7.7],[2013.42,7.5],[2013.45,7.7],[2013.49,7.3],[2013.52,7.5],[2013.55,7.1],[2013.59,5.2],[2013.64,2.3],[2013.68,2.0],[2013.73,0.7],[2013.82,0.6],[2013.95,0.6],[2014.02,1.1],[2014.09,1.8],[2014.16,2.5],[2014.23,3.4],[2014.30,5.2],[2014.34,6.1],[2014.37,8.2],[2014.40,6.6],[2014.43,4.8],[2014.48,5.0],[2014.52,4.8],[2014.57,6.4],[2014.64,6.4],[2014.73,6.2],[2014.82,6.6],[2014.89,6.4],[2014.93,6.1],[2014.95,4.3],[2015.00,4.3],[2015.02,5.0],[2015.09,5.2],[2015.18,5.5],[2015.25,5.7],[2015.30,5.9],[2015.34,5.7],[2015.41,5.5],[2015.45,4.8],[2015.55,4.7],[2015.64,4.8],[2015.73,4.9],[2015.78,5.2],[2015.80,5.9],[2015.83,4.8],[2015.89,4.5],[2015.95,4.5],[2016.02,4.3],[2016.07,3.9],[2016.14,3.4],[2016.23,3.4],[2016.30,2.7],[2016.32,1.8],[2017.02,1.8],[2017.05,0.2],[2017.11,0],
[2017.44,0],[2017.51,0.9],[2017.55,1.4],[2017.60,1.1],[2017.65,1.6],[2017.68,2.1],[2017.71,1.6],[2017.74,0.9],[2017.78,0],
[2018.15,0],[2018.19,0.7],[2018.24,1.6],[2018.28,3.0],[2018.33,3.6],[2018.37,3.9],[2018.42,3.6],[2018.46,3.3],[2018.51,3.2],[2018.56,3.1],[2018.60,3.0],[2018.67,3.1],[2018.71,3.0],[2018.76,2.7],[2018.81,2.4],[2018.87,2.3],[2018.96,2.1],[2019.03,2.1],[2019.06,1.1],[2019.10,0],
[2019.78,0],[2019.83,0.2],[2019.90,0.5],[2019.97,0.5],[2020.10,0.2],[2020.33,0.2],[2020.60,0.5],[2020.69,0.9],[2020.76,3.4],[2020.81,6.6],[2020.85,8.9],[2020.90,12.1],[2020.93,16.2],[2020.99,16.2],[2021.02,15.7],[2021.06,15.0],[2021.10,14.3],[2021.15,13.4],[2021.19,13.9],[2021.24,14.3],[2021.28,14.6],[2021.33,15.0],[2021.38,15.7],[2021.41,16.6],[2021.44,16.2],[2021.48,16.2],[2021.51,15.7],[2021.55,16.4],[2021.58,15.7],[2021.60,14.8],[2021.65,14.6],[2021.69,12.5],[2021.74,12.1],[2021.79,11.8],[2021.83,11.2],[2021.88,9.8],[2021.92,8.9],[2021.97,8.0],[2021.99,6.6],[2022.01,3.4],[2022.04,2.5],[2022.08,2.5],[2022.13,2.3],[2022.17,2.5],[2022.19,3.9],[2022.22,4.3],[2022.24,3.9],[2022.28,4.5],[2022.31,6.1],[2022.35,8.0],[2022.38,9.6],[2022.40,9.1],[2022.42,8.4],[2022.44,9.3],[2022.47,8.4],[2022.49,7.1],[2022.51,6.6],[2022.54,7.5],[2022.56,7.3],[2022.60,7.1],[2022.63,5.7],[2022.65,3.9],[2022.70,3.0],[2022.72,3.6],[2022.76,4.3],[2022.81,4.8],[2022.85,4.6],[2022.92,4.6],[2022.97,4.3],[2023.01,3.4],[2023.08,3.2],[2023.15,3.0],[2023.22,2.7],[2023.26,3.0],[2023.28,3.2]
];

const seriesValues = [severeOrWorse, extremeOrWorse, exceptionalOnly];

const yTickValues = [0, 20, 40, 60];
const yGridValues = [20, 40, 60];
const majorYears = [2000, 2002, 2004, 2006, 2008, 2010, 2012, 2014, 2016, 2018, 2020, 2022, 2024];
const majorLabels = ["2000", "2002", "2004", "2006", "2008", "2010", "2012", "2014", "2016", "2018", "2000", "2022", "2024"];
const minorYears = [2001, 2003, 2005, 2007, 2009, 2011, 2013, 2015, 2017, 2019, 2021, 2023];

const noteLines = [
  "Note: Western land area includes land in the 17 western States: Arizona, California, Colorado,",
  "Idaho, Kansas, Montana, Nebraska, Nevada, New Mexico, North Dakota, Oklahoma, Oregon,",
  "South Dakota, Texas, Utah, Washington, and Wyoming; This figure shows the percentage of land",
  "area in the western United States experiencing differing levels of drought between 2000 and 2023.",
  "The summer of 2021 saw the largest percentage of western U.S. land area experiencing extreme or",
  "exceptional drought during the 2000 to 2023 period. Conditions remained severe in 2022 but have",
  "declined over the 2022\u201323 winter due to substantial precipitation. See the U.S. Drought Monitor",
  "for drought classification details."
];
const sourceLines = [
  "Source: USDA, Economic Research Service using U.S. Department of Commerce, U.S. Drought",
  "Monitor data."
];

// ---------------- CHART ----------------
const xDomain = [1998.922, 2024.70];
const xAxisStart = 1998.745;
const yDomain = [0, 74.44];
const labelOf = d => majorLabels[majorYears.indexOf(d)];
const axisFont = "Roboto, sans-serif";

const areaMarks = seriesValues.map((vals, i) =>
  Plot.areaY(vals, {
    x: d => d[0], y1: 0, y2: d => d[1],
    fill: colors[i], stroke: "#1c1c1c", strokeWidth: 1.2, strokeLinejoin: "round"
  })
);

const chart = Plot.plot({
  width: 2048,
  height: 1100,
  marginLeft: 125,
  marginRight: 34,
  marginTop: 46.8,
  marginBottom: 103.4,
  x: {type: "linear", domain: xDomain},
  y: {domain: yDomain},
  style: {background: "transparent", overflow: "visible", fontFamily: axisFont, letterSpacing: "1.5px"},
  marks: [
    Plot.gridY(yGridValues, {stroke: "#d2d2d2", strokeOpacity: 1, strokeWidth: 1.5}),
    ...areaMarks,
    Plot.ruleX([xDomain[0]], {y1: yDomain[0], y2: yDomain[1], stroke: "#111", strokeWidth: 2}),
    Plot.ruleY([0], {x1: xAxisStart, x2: xDomain[1], stroke: "#111", strokeWidth: 2.2}),
    Plot.axisY(yTickValues, {tickSize: 13, tickPadding: 29, fontSize: 48, fontFamily: axisFont, color: "#111", strokeWidth: 2}),
    Plot.axisX(majorYears, {tickSize: 26, tickPadding: 9, fontSize: 48, fontFamily: axisFont, color: "#111", strokeWidth: 2,
      tickFormat: d => (d === majorYears[0] ? "" : labelOf(d))}),
    Plot.axisX([majorYears[0]], {tickSize: 0, tickPadding: 35, dx: -13, fontSize: 48, fontFamily: axisFont, color: "#111",
      tickFormat: d => labelOf(d)}),
    Plot.axisX(minorYears, {tickSize: 13, color: "#111", strokeWidth: 2, tickFormat: () => ""})
  ]
});
document.getElementById("chart").appendChild(chart);

// ---------------- TITLE, LEGEND, NOTES ----------------
const svg = d3.select("#overlay");
const ink = "#231f20";

svg.append("text")
  .attr("x", 29).attr("y", 98)
  .attr("font-family", "Roboto, sans-serif").attr("font-weight", 700).attr("font-size", 62)
  .attr("fill", ink)
  .attr("textLength", 1695).attr("lengthAdjust", "spacingAndGlyphs")
  .text(titleText);

// legend box
svg.append("rect")
  .attr("x", 466).attr("y", 164.5).attr("width", 1073).attr("height", 193)
  .attr("fill", "#fff").attr("stroke", "#8c8c8c").attr("stroke-width", 1.5);
svg.append("text")
  .attr("x", 735).attr("y", 225)
  .attr("font-family", "Roboto, sans-serif").attr("font-weight", 700).attr("font-size", 49)
  .attr("fill", "#111")
  .attr("textLength", 527).attr("lengthAdjust", "spacingAndGlyphs")
  .text(legendTitle);

const swatchX = [497.5, 804.5, 1135];
const labelX = [581, 886, 1218];
const labelY = [313, 313, 308];
const labelW = [154, 188, 261];
categories.forEach((c, i) => {
  svg.append("rect")
    .attr("x", swatchX[i]).attr("y", 257).attr("width", 77).attr("height", 73)
    .attr("fill", colors[i]).attr("stroke", "#4a4a4a").attr("stroke-width", 1.5);
  svg.append("text")
    .attr("x", labelX[i]).attr("y", labelY[i])
    .attr("font-family", "Roboto, sans-serif").attr("font-size", 50)
    .attr("fill", "#111")
    .attr("textLength", labelW[i]).attr("lengthAdjust", "spacingAndGlyphs")
    .text(c);
});

// notes and source: each line fitted to the reference's line width
const noteX = 27;
const lineEnds = [1905, 1895, 1983, 2009, 2014, 2006, 1954, 679, 2009, 306];
const allLines = noteLines.concat(sourceLines);
const baselines = noteLines.map((_, i) => 1342 + 57.5 * i).concat([1815.5, 1874]);
allLines.forEach((t, i) => {
  svg.append("text")
    .attr("x", noteX).attr("y", baselines[i])
    .attr("font-family", "Roboto, sans-serif").attr("font-size", 40.5)
    .attr("fill", ink)
    .attr("textLength", lineEnds[i] - noteX - 1).attr("lengthAdjust", "spacingAndGlyphs")
    .text(t);
});
</script>
</body>
</html>
